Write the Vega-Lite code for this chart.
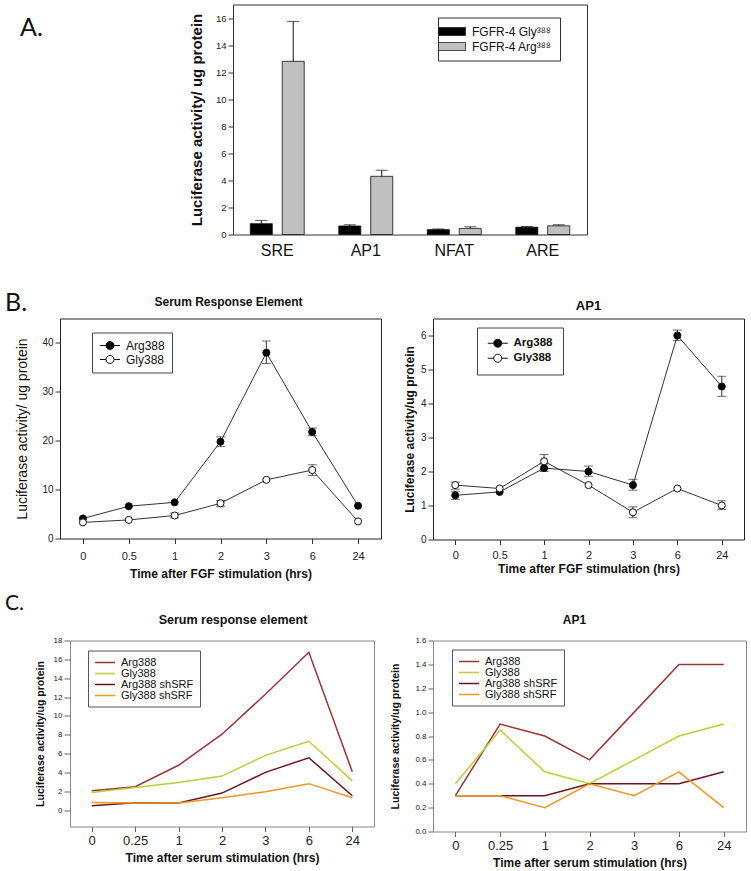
{
  "$schema": "https://vega.github.io/schema/vega-lite/v6.json",
  "background": "white",
  "padding": {"left": 0, "top": 3.5, "right": 0, "bottom": 0},
  "config": {
    "font": "Liberation Sans",
    "view": {"stroke": "#333", "strokeWidth": 1},
    "axis": {"grid": false, "domain": false, "tickColor": "#333", "labelColor": "#222", "titleColor": "#111", "labelFont": "Liberation Sans", "titleFont": "Liberation Sans", "tickSize": 5, "labelPadding": 2, "labelOverlap": false},
    "legend": {"labelFont": "Liberation Sans", "labelColor": "#111"},
    "title": {"font": "Liberation Sans", "fontWeight": "bold", "color": "#111", "baseline": "alphabetic"}
  },
  "datasets": {
    "a": [
      {"element": "SRE", "genotype": "FGFR-4 Gly³⁸⁸", "value": 0.8, "upper": 1.04},
      {"element": "SRE", "genotype": "FGFR-4 Arg³⁸⁸", "value": 12.8, "upper": 15.75},
      {"element": "AP1", "genotype": "FGFR-4 Gly³⁸⁸", "value": 0.63, "upper": 0.72},
      {"element": "AP1", "genotype": "FGFR-4 Arg³⁸⁸", "value": 4.3, "upper": 4.75},
      {"element": "NFAT", "genotype": "FGFR-4 Gly³⁸⁸", "value": 0.36, "upper": 0.41},
      {"element": "NFAT", "genotype": "FGFR-4 Arg³⁸⁸", "value": 0.45, "upper": 0.57},
      {"element": "ARE", "genotype": "FGFR-4 Gly³⁸⁸", "value": 0.54, "upper": 0.59},
      {"element": "ARE", "genotype": "FGFR-4 Arg³⁸⁸", "value": 0.64, "upper": 0.72}
    ],
    "b_sre": [
      {"t": "0", "series": "Arg388", "value": 4.1, "lo": null, "hi": null},
      {"t": "0.5", "series": "Arg388", "value": 6.6, "lo": null, "hi": null},
      {"t": "1", "series": "Arg388", "value": 7.4, "lo": null, "hi": null},
      {"t": "2", "series": "Arg388", "value": 19.8, "lo": 18.8, "hi": 20.8},
      {"t": "3", "series": "Arg388", "value": 38.0, "lo": 35.8, "hi": 40.4},
      {"t": "6", "series": "Arg388", "value": 21.8, "lo": 21.0, "hi": 22.6},
      {"t": "24", "series": "Arg388", "value": 6.7, "lo": null, "hi": null},
      {"t": "0", "series": "Gly388", "value": 3.3, "lo": null, "hi": null},
      {"t": "0.5", "series": "Gly388", "value": 3.8, "lo": null, "hi": null},
      {"t": "1", "series": "Gly388", "value": 4.7, "lo": 4.2, "hi": 5.2},
      {"t": "2", "series": "Gly388", "value": 7.2, "lo": 6.5, "hi": 7.8},
      {"t": "3", "series": "Gly388", "value": 12.0, "lo": null, "hi": null},
      {"t": "6", "series": "Gly388", "value": 14.0, "lo": 12.9, "hi": 15.1},
      {"t": "24", "series": "Gly388", "value": 3.5, "lo": null, "hi": null}
    ],
    "b_ap1": [
      {"t": "0", "series": "Arg388", "value": 1.3, "lo": 1.18, "hi": 1.42},
      {"t": "0.5", "series": "Arg388", "value": 1.4, "lo": null, "hi": null},
      {"t": "1", "series": "Arg388", "value": 2.1, "lo": 2.0, "hi": 2.22},
      {"t": "2", "series": "Arg388", "value": 2.0, "lo": 1.86, "hi": 2.16},
      {"t": "3", "series": "Arg388", "value": 1.6, "lo": 1.45, "hi": 1.77},
      {"t": "6", "series": "Arg388", "value": 6.0, "lo": 5.85, "hi": 6.16},
      {"t": "24", "series": "Arg388", "value": 4.5, "lo": 4.21, "hi": 4.8},
      {"t": "0", "series": "Gly388", "value": 1.6, "lo": 1.48, "hi": 1.69},
      {"t": "0.5", "series": "Gly388", "value": 1.5, "lo": null, "hi": null},
      {"t": "1", "series": "Gly388", "value": 2.3, "lo": 2.07, "hi": 2.5},
      {"t": "2", "series": "Gly388", "value": 1.6, "lo": null, "hi": null},
      {"t": "3", "series": "Gly388", "value": 0.8, "lo": 0.64, "hi": 0.96},
      {"t": "6", "series": "Gly388", "value": 1.5, "lo": null, "hi": null},
      {"t": "24", "series": "Gly388", "value": 1.0, "lo": 0.88, "hi": 1.14}
    ],
    "c_sre": [
      {"t": "0", "series": "Arg388", "value": 2.05},
      {"t": "0.25", "series": "Arg388", "value": 2.48},
      {"t": "1", "series": "Arg388", "value": 4.75},
      {"t": "2", "series": "Arg388", "value": 8.05},
      {"t": "3", "series": "Arg388", "value": 12.3},
      {"t": "6", "series": "Arg388", "value": 16.75},
      {"t": "24", "series": "Arg388", "value": 4.07},
      {"t": "0", "series": "Gly388", "value": 1.87},
      {"t": "0.25", "series": "Gly388", "value": 2.4},
      {"t": "1", "series": "Gly388", "value": 2.93},
      {"t": "2", "series": "Gly388", "value": 3.6},
      {"t": "3", "series": "Gly388", "value": 5.8},
      {"t": "6", "series": "Gly388", "value": 7.3},
      {"t": "24", "series": "Gly388", "value": 3.1},
      {"t": "0", "series": "Arg388 shSRF", "value": 0.46},
      {"t": "0.25", "series": "Arg388 shSRF", "value": 0.78},
      {"t": "1", "series": "Arg388 shSRF", "value": 0.75},
      {"t": "2", "series": "Arg388 shSRF", "value": 1.8},
      {"t": "3", "series": "Arg388 shSRF", "value": 4.0},
      {"t": "6", "series": "Arg388 shSRF", "value": 5.55},
      {"t": "24", "series": "Arg388 shSRF", "value": 1.52},
      {"t": "0", "series": "Gly388 shSRF", "value": 0.8},
      {"t": "0.25", "series": "Gly388 shSRF", "value": 0.75},
      {"t": "1", "series": "Gly388 shSRF", "value": 0.75},
      {"t": "2", "series": "Gly388 shSRF", "value": 1.3},
      {"t": "3", "series": "Gly388 shSRF", "value": 1.95},
      {"t": "6", "series": "Gly388 shSRF", "value": 2.8},
      {"t": "24", "series": "Gly388 shSRF", "value": 1.3}
    ],
    "c_ap1": [
      {"t": "0", "series": "Arg388", "value": 0.3},
      {"t": "0.25", "series": "Arg388", "value": 0.9},
      {"t": "1", "series": "Arg388", "value": 0.8},
      {"t": "2", "series": "Arg388", "value": 0.6},
      {"t": "3", "series": "Arg388", "value": 1.0},
      {"t": "6", "series": "Arg388", "value": 1.4},
      {"t": "24", "series": "Arg388", "value": 1.4},
      {"t": "0", "series": "Gly388", "value": 0.4},
      {"t": "0.25", "series": "Gly388", "value": 0.85},
      {"t": "1", "series": "Gly388", "value": 0.5},
      {"t": "2", "series": "Gly388", "value": 0.4},
      {"t": "3", "series": "Gly388", "value": 0.6},
      {"t": "6", "series": "Gly388", "value": 0.8},
      {"t": "24", "series": "Gly388", "value": 0.9},
      {"t": "0", "series": "Arg388 shSRF", "value": 0.3},
      {"t": "0.25", "series": "Arg388 shSRF", "value": 0.3},
      {"t": "1", "series": "Arg388 shSRF", "value": 0.3},
      {"t": "2", "series": "Arg388 shSRF", "value": 0.4},
      {"t": "3", "series": "Arg388 shSRF", "value": 0.4},
      {"t": "6", "series": "Arg388 shSRF", "value": 0.4},
      {"t": "24", "series": "Arg388 shSRF", "value": 0.5},
      {"t": "0", "series": "Gly388 shSRF", "value": 0.3},
      {"t": "0.25", "series": "Gly388 shSRF", "value": 0.3},
      {"t": "1", "series": "Gly388 shSRF", "value": 0.2},
      {"t": "2", "series": "Gly388 shSRF", "value": 0.4},
      {"t": "3", "series": "Gly388 shSRF", "value": 0.3},
      {"t": "6", "series": "Gly388 shSRF", "value": 0.5},
      {"t": "24", "series": "Gly388 shSRF", "value": 0.2}
    ]
  },
  "spacing": 0,
  "resolve": {"scale": {"fill": "independent", "color": "independent", "xOffset": "independent"}, "legend": {"fill": "independent", "color": "independent"}},
  "vconcat": [
    {
      "bounds": "flush",
      "spacing": 0,
      "resolve": {"scale": {"fill": "independent"}, "legend": {"fill": "independent"}},
      "hconcat": [
        {"width": 233, "height": 286, "data": {"values": []}, "mark": "point", "view": {"stroke": null},
         "title": {"text": "A.", "anchor": "start", "frame": "group", "font": "Lato", "fontSize": 25, "fontWeight": "normal", "color": "#111", "dx": 20, "offset": -36}},
        {
          "width": 354,
          "height": 230,
          "data": {"name": "a"},
          "view": {"stroke": "#333"},
          "encoding": {
            "x": {"field": "element", "type": "nominal", "sort": ["SRE", "AP1", "NFAT", "ARE"], "scale": {"paddingInner": 0.39, "paddingOuter": 0.195}, "axis": {"title": null, "labelAngle": 0, "labelFontSize": 16, "ticks": false, "labelPadding": 8, "labelColor": "#111"}},
            "xOffset": {"field": "genotype", "type": "nominal", "sort": ["FGFR-4 Gly³⁸⁸", "FGFR-4 Arg³⁸⁸"], "scale": {"paddingInner": 0.31, "paddingOuter": 0}}
          },
          "layer": [
            {
              "mark": {"type": "bar", "stroke": "#111", "strokeWidth": 0.8},
              "encoding": {
                "y": {"field": "value", "type": "quantitative", "scale": {"domain": [0, 17], "nice": false}, "title": "Luciferase activity/ ug protein", "axis": {"values": [0, 2, 4, 6, 8, 10, 12, 14, 16], "labelOverlap": false, "labelFontSize": 9.5, "titleFontSize": 15, "titleFontWeight": "bold", "titlePadding": 11}},
                "fill": {"field": "genotype", "type": "nominal", "scale": {"domain": ["FGFR-4 Gly³⁸⁸", "FGFR-4 Arg³⁸⁸"], "range": ["#000000", "#c0c0c0"]}, "legend": {"title": null, "orient": "none", "legendX": 205, "legendY": 13, "strokeColor": "#333", "fillColor": "white", "padding": 8, "symbolType": "M-2.7,-0.8H2.7V0.8H-2.7Z", "symbolSize": 100, "symbolStrokeColor": "#222", "symbolStrokeWidth": 0.8, "labelFontSize": 12, "labelOffset": 14, "rowPadding": 3}}
              }
            },
            {
              "mark": {"type": "rule", "color": "#111", "strokeWidth": 1},
              "encoding": {"y": {"field": "value", "type": "quantitative", "title": "Luciferase activity/ ug protein", "axis": {"values": [0, 2, 4, 6, 8, 10, 12, 14, 16], "labelOverlap": false, "labelFontSize": 9.5, "titleFontSize": 15, "titleFontWeight": "bold", "titlePadding": 11}}, "y2": {"field": "upper"}}
            },
            {
              "mark": {"type": "tick", "color": "#111", "size": 12, "thickness": 1},
              "encoding": {"y": {"field": "upper", "type": "quantitative", "title": "Luciferase activity/ ug protein", "axis": {"values": [0, 2, 4, 6, 8, 10, 12, 14, 16], "labelOverlap": false, "labelFontSize": 9.5, "titleFontSize": 15, "titleFontWeight": "bold", "titlePadding": 11}}}
            }
          ]
        }
      ]
    },
    {
      "bounds": "flush",
      "spacing": 52,
      "resolve": {"scale": {"fill": "independent"}, "legend": {"fill": "independent"}},
      "hconcat": [
        {"width": 8, "height": 274, "data": {"values": []}, "mark": "point", "view": {"stroke": null},
         "title": {"text": "B.", "anchor": "start", "frame": "group", "font": "Lato", "fontSize": 25, "fontWeight": "normal", "color": "#111", "dx": 5, "offset": 3}},
        {
          "width": 321,
          "height": 220,
          "data": {"name": "b_sre"},
          "view": {"stroke": "#222"},
          "title": {"text": "Serum Response Element", "fontSize": 12, "offset": 10, "dx": 8},
          "encoding": {
            "x": {"field": "t", "type": "ordinal", "sort": ["0", "0.5", "1", "2", "3", "6", "24"], "scale": {"type": "point", "padding": 0.5}, "axis": {"title": "Time after FGF stimulation (hrs)", "labelAngle": 0, "labelFontSize": 11, "labelPadding": 7, "titleFontSize": 12, "titleFontWeight": "bold", "titlePadding": 7}}
          },
          "layer": [
            {
              "mark": {"type": "line", "color": "#333", "strokeWidth": 1},
              "encoding": {
                "y": {"field": "value", "type": "quantitative", "scale": {"domain": [0, 45], "nice": false}, "title": "Luciferase activity/ ug protein", "axis": {"values": [0, 10, 20, 30, 40], "labelOverlap": false, "labelFontSize": 10, "titleFontSize": 14, "titleFontWeight": "normal", "titlePadding": 12}},
                "detail": {"field": "series"}
              }
            },
            {
              "mark": {"type": "rule", "color": "#333", "strokeWidth": 1},
              "encoding": {"y": {"field": "lo", "type": "quantitative", "title": "Luciferase activity/ ug protein", "axis": {"values": [0, 10, 20, 30, 40], "labelOverlap": false, "labelFontSize": 10, "titleFontSize": 14, "titleFontWeight": "normal", "titlePadding": 12}}, "y2": {"field": "hi"}}
            },
            {
              "mark": {"type": "tick", "color": "#333", "size": 9, "thickness": 1},
              "encoding": {"y": {"field": "lo", "type": "quantitative", "title": "Luciferase activity/ ug protein", "axis": {"values": [0, 10, 20, 30, 40], "labelOverlap": false, "labelFontSize": 10, "titleFontSize": 14, "titleFontWeight": "normal", "titlePadding": 12}}}
            },
            {
              "mark": {"type": "tick", "color": "#333", "size": 9, "thickness": 1},
              "encoding": {"y": {"field": "hi", "type": "quantitative", "title": "Luciferase activity/ ug protein", "axis": {"values": [0, 10, 20, 30, 40], "labelOverlap": false, "labelFontSize": 10, "titleFontSize": 14, "titleFontWeight": "normal", "titlePadding": 12}}}
            },
            {
              "mark": {"type": "point", "filled": true, "stroke": "#111", "strokeWidth": 1, "size": 50, "opacity": 1},
              "encoding": {
                "y": {"field": "value", "type": "quantitative", "title": "Luciferase activity/ ug protein", "axis": {"values": [0, 10, 20, 30, 40], "labelOverlap": false, "labelFontSize": 10, "titleFontSize": 14, "titleFontWeight": "normal", "titlePadding": 12}},
                "fill": {"field": "series", "type": "nominal", "scale": {"domain": ["Arg388", "Gly388"], "range": ["#000000", "#ffffff"]}, "legend": {"title": null, "orient": "none", "legendX": 32, "legendY": 14, "strokeColor": "#444", "fillColor": "white", "padding": 7, "symbolType": "M-2,0H-0.8M0.8,0H2M0.8,0A0.8,0.8 0 1 1 -0.8,0A0.8,0.8 0 1 1 0.8,0Z", "symbolSize": 100, "symbolStrokeColor": "#111", "symbolStrokeWidth": 1, "symbolOffset": 5, "labelFontSize": 12, "labelOffset": 10, "rowPadding": 2}}
              }
            }
          ]
        },
        {
          "width": 311,
          "height": 221,
          "data": {"name": "b_ap1"},
          "view": {"stroke": "#222"},
          "title": {"text": "AP1", "fontSize": 13, "offset": 6},
          "encoding": {
            "x": {"field": "t", "type": "ordinal", "sort": ["0", "0.5", "1", "2", "3", "6", "24"], "scale": {"type": "point", "padding": 0.5}, "axis": {"title": "Time after FGF stimulation (hrs)", "labelAngle": 0, "labelFontSize": 11, "labelPadding": 5, "titleFontSize": 12, "titleFontWeight": "bold", "titlePadding": 3}}
          },
          "layer": [
            {
              "mark": {"type": "line", "color": "#333", "strokeWidth": 1},
              "encoding": {
                "y": {"field": "value", "type": "quantitative", "scale": {"domain": [0, 6.5], "nice": false}, "title": "Luciferase activity/ug protein", "axis": {"values": [0, 1, 2, 3, 4, 5, 6], "labelOverlap": false, "labelFontSize": 10, "titleFontSize": 12, "titleFontWeight": "bold", "titlePadding": 4}},
                "detail": {"field": "series"}
              }
            },
            {
              "mark": {"type": "rule", "color": "#333", "strokeWidth": 1},
              "encoding": {"y": {"field": "lo", "type": "quantitative", "title": "Luciferase activity/ug protein", "axis": {"values": [0, 1, 2, 3, 4, 5, 6], "labelOverlap": false, "labelFontSize": 10, "titleFontSize": 12, "titleFontWeight": "bold", "titlePadding": 4}}, "y2": {"field": "hi"}}
            },
            {
              "mark": {"type": "tick", "color": "#333", "size": 9, "thickness": 1},
              "encoding": {"y": {"field": "lo", "type": "quantitative", "title": "Luciferase activity/ug protein", "axis": {"values": [0, 1, 2, 3, 4, 5, 6], "labelOverlap": false, "labelFontSize": 10, "titleFontSize": 12, "titleFontWeight": "bold", "titlePadding": 4}}}
            },
            {
              "mark": {"type": "tick", "color": "#333", "size": 9, "thickness": 1},
              "encoding": {"y": {"field": "hi", "type": "quantitative", "title": "Luciferase activity/ug protein", "axis": {"values": [0, 1, 2, 3, 4, 5, 6], "labelOverlap": false, "labelFontSize": 10, "titleFontSize": 12, "titleFontWeight": "bold", "titlePadding": 4}}}
            },
            {
              "mark": {"type": "point", "filled": true, "stroke": "#111", "strokeWidth": 1, "size": 50, "opacity": 1},
              "encoding": {
                "y": {"field": "value", "type": "quantitative", "title": "Luciferase activity/ug protein", "axis": {"values": [0, 1, 2, 3, 4, 5, 6], "labelOverlap": false, "labelFontSize": 10, "titleFontSize": 12, "titleFontWeight": "bold", "titlePadding": 4}},
                "fill": {"field": "series", "type": "nominal", "scale": {"domain": ["Arg388", "Gly388"], "range": ["#000000", "#ffffff"]}, "legend": {"title": null, "orient": "none", "legendX": 44, "legendY": 9, "strokeColor": "#444", "fillColor": "white", "padding": 10, "symbolType": "M-2,0H-0.8M0.8,0H2M0.8,0A0.8,0.8 0 1 1 -0.8,0A0.8,0.8 0 1 1 0.8,0Z", "symbolSize": 100, "symbolStrokeColor": "#111", "symbolStrokeWidth": 1, "symbolOffset": 5, "labelFontSize": 11.5, "labelFontWeight": "bold", "labelOffset": 10, "rowPadding": 2}}
              }
            }
          ]
        }
      ]
    },
    {
      "bounds": "flush",
      "spacing": 59,
      "resolve": {"scale": {"color": "independent"}, "legend": {"color": "independent"}},
      "hconcat": [
        {"width": 11, "height": 1, "data": {"values": []}, "mark": "point", "view": {"stroke": null},
         "title": {"text": "C.", "anchor": "start", "frame": "group", "font": "Lato", "fontSize": 21, "fontWeight": "normal", "color": "#111", "dx": 5, "offset": 27}},
        {
          "width": 304,
          "height": 186,
          "data": {"name": "c_sre"},
          "view": {"stroke": "#888"},
          "title": {"text": "Serum response element", "fontSize": 12.5, "offset": 10, "dx": 11},
          "encoding": {
            "x": {"field": "t", "type": "ordinal", "sort": ["0", "0.25", "1", "2", "3", "6", "24"], "scale": {"type": "point", "padding": 0.5}, "axis": {"title": "Time after serum stimulation (hrs)", "labelAngle": 0, "labelFontSize": 13, "labelPadding": 3, "tickColor": "#666", "titleFontSize": 12, "titleFontWeight": "bold", "titlePadding": 5}},
            "y": {"field": "value", "type": "quantitative", "scale": {"domain": [-1.75, 18], "nice": false, "zero": false}, "title": "Luciferase activity/ug protein", "axis": {"values": [0, 2, 4, 6, 8, 10, 12, 14, 16, 18], "labelFontSize": 8, "tickSize": 6, "tickColor": "#666", "titleFontSize": 10.5, "titleFontWeight": "bold", "titlePadding": 8}},
            "color": {"field": "series", "type": "nominal", "scale": {"domain": ["Arg388", "Gly388", "Arg388 shSRF", "Gly388 shSRF"], "range": ["#9b3535", "#bccf36", "#6a1620", "#f59423"]}, "legend": {"title": null, "orient": "none", "legendX": 18, "legendY": 10, "strokeColor": "#555", "fillColor": "white", "padding": 6, "symbolType": "M-2,0H2", "symbolSize": 100, "symbolStrokeWidth": 1.5, "symbolOffset": 5, "labelFontSize": 11, "labelOffset": 10, "rowPadding": 0}}
          },
          "mark": {"type": "line", "strokeWidth": 1.5}
        },
        {
          "width": 313,
          "height": 191,
          "data": {"name": "c_ap1"},
          "view": {"stroke": "#888"},
          "title": {"text": "AP1", "fontSize": 12, "offset": 10, "dx": -15},
          "encoding": {
            "x": {"field": "t", "type": "ordinal", "sort": ["0", "0.25", "1", "2", "3", "6", "24"], "scale": {"type": "point", "padding": 0.5}, "axis": {"title": "Time after serum stimulation (hrs)", "labelAngle": 0, "labelFontSize": 13, "labelPadding": 3, "tickColor": "#666", "titleFontSize": 12, "titleFontWeight": "bold", "titlePadding": 5}},
            "y": {"field": "value", "type": "quantitative", "scale": {"domain": [0, 1.6], "nice": false}, "title": "Luciferase activity/ug protein", "axis": {"values": [0, 0.2, 0.4, 0.6, 0.8, 1.0, 1.2, 1.4, 1.6], "format": ".1f", "labelFontSize": 8, "tickColor": "#666", "titleFontSize": 10.5, "titleFontWeight": "bold", "titlePadding": 14}},
            "color": {"field": "series", "type": "nominal", "scale": {"domain": ["Arg388", "Gly388", "Arg388 shSRF", "Gly388 shSRF"], "range": ["#9b3535", "#bccf36", "#6a1620", "#f59423"]}, "legend": {"title": null, "orient": "none", "legendX": 19, "legendY": 9, "strokeColor": "#555", "fillColor": "white", "padding": 6, "symbolType": "M-2,0H2", "symbolSize": 100, "symbolStrokeWidth": 1.5, "symbolOffset": 5, "labelFontSize": 11, "labelOffset": 10, "rowPadding": 0}}
          },
          "mark": {"type": "line", "strokeWidth": 1.5}
        }
      ]
    }
  ]
}
